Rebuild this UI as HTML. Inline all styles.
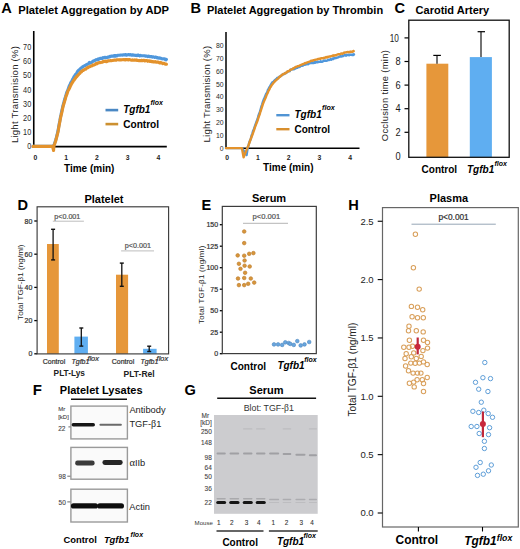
<!DOCTYPE html>
<html><head><meta charset="utf-8"><style>
html,body{margin:0;padding:0;background:#fff;}
svg{display:block;font-family:"Liberation Sans", sans-serif;}
</style></head><body>
<svg width="520" height="549" viewBox="0 0 520 549">
<defs><filter id="bl" x="-20%" y="-200%" width="140%" height="500%"><feGaussianBlur stdDeviation="0.45"/></filter><filter id="bl2" x="-20%" y="-200%" width="140%" height="500%"><feGaussianBlur stdDeviation="0.6"/></filter></defs>
<rect width="520" height="549" fill="#fff"/>
<text x="1.2" y="13.2" font-size="14.6" font-weight="bold" font-style="normal" fill="#000" text-anchor="start" >A</text>
<text x="18.2" y="14.4" font-size="11.2" font-weight="bold" font-style="normal" fill="#000" text-anchor="start" >Platelet Aggregation by ADP</text>
<text transform="translate(31.2,149.4) scale(0.85,1)" font-size="8.6" font-weight="normal" fill="#2a2a2a" text-anchor="end">0</text>
<text transform="translate(31.2,135.21) scale(0.85,1)" font-size="8.6" font-weight="normal" fill="#2a2a2a" text-anchor="end">10</text>
<text transform="translate(31.2,121.02000000000001) scale(0.85,1)" font-size="8.6" font-weight="normal" fill="#2a2a2a" text-anchor="end">20</text>
<text transform="translate(31.2,106.83000000000001) scale(0.85,1)" font-size="8.6" font-weight="normal" fill="#2a2a2a" text-anchor="end">30</text>
<text transform="translate(31.2,92.64) scale(0.85,1)" font-size="8.6" font-weight="normal" fill="#2a2a2a" text-anchor="end">40</text>
<text transform="translate(31.2,78.45) scale(0.85,1)" font-size="8.6" font-weight="normal" fill="#2a2a2a" text-anchor="end">50</text>
<text transform="translate(31.2,64.26) scale(0.85,1)" font-size="8.6" font-weight="normal" fill="#2a2a2a" text-anchor="end">60</text>
<text transform="translate(31.2,50.070000000000014) scale(0.85,1)" font-size="8.6" font-weight="normal" fill="#2a2a2a" text-anchor="end">70</text>
<text x="35.3" y="159.5" font-size="6.8" font-weight="bold" font-style="normal" fill="#222" text-anchor="middle" >0</text>
<text x="66.05" y="159.5" font-size="6.8" font-weight="bold" font-style="normal" fill="#222" text-anchor="middle" >1</text>
<text x="96.8" y="159.5" font-size="6.8" font-weight="bold" font-style="normal" fill="#222" text-anchor="middle" >2</text>
<text x="127.55" y="159.5" font-size="6.8" font-weight="bold" font-style="normal" fill="#222" text-anchor="middle" >3</text>
<text x="158.3" y="159.5" font-size="6.8" font-weight="bold" font-style="normal" fill="#222" text-anchor="middle" >4</text>
<text x="64" y="172.3" font-size="10" font-weight="bold" font-style="normal" fill="#000" text-anchor="start" >Time (min)</text>
<text transform="translate(18.3,94.6) rotate(-90)" font-size="9.5" font-weight="normal" fill="#222" text-anchor="middle" textLength="97" lengthAdjust="spacing">Light Transmision (%)</text>
<line x1="33.75" y1="31" x2="33.75" y2="147.3" stroke="#000" stroke-width="1.6" />
<line x1="33" y1="146.6" x2="166.8" y2="146.6" stroke="#000" stroke-width="1.6" />
<path d="M33.0,146.4 L53.7,146.0 L54.1,144.9 L54.7,143.0 L55.4,141.1 L56.1,138.8 L56.8,135.9 L57.4,133.4 L58.0,131.0 L58.6,127.3 L59.2,123.9 L59.8,121.1 L60.4,117.4 L61.0,114.9 L61.6,111.8 L62.2,109.0 L62.9,105.9 L63.5,103.6 L64.2,101.3 L64.8,98.7 L65.5,96.8 L66.1,94.7 L66.8,92.3 L67.5,90.9 L68.2,88.9 L68.8,87.2 L69.4,85.5 L70.0,84.8 L70.6,83.1 L71.3,81.9 L72.0,80.7 L72.7,79.2 L73.4,78.1 L74.0,76.7 L74.6,76.1 L75.3,74.8 L75.9,74.3 L76.6,73.3 L77.3,71.8 L78.0,70.9 L78.8,70.1 L79.5,69.9 L80.3,68.7 L80.9,68.4 L81.5,67.6 L82.1,67.3 L82.8,66.7 L83.5,66.2 L84.2,66.0 L84.9,65.5 L85.5,65.4 L86.2,64.8 L86.9,64.6 L87.6,64.1 L88.2,63.9 L88.8,63.3 L89.4,62.5 L90.2,63.1 L90.9,62.8 L91.6,62.4 L92.2,61.7 L92.9,61.5 L93.5,60.8 L94.2,61.0 L94.8,60.5 L95.5,60.0 L96.2,59.6 L96.9,59.9 L97.5,59.8 L98.2,58.9 L98.8,59.3 L99.5,58.8 L100.2,58.4 L100.8,58.3 L101.6,58.5 L102.3,58.4 L103.0,57.6 L103.8,57.9 L104.4,57.3 L105.1,57.7 L105.7,57.3 L106.4,57.6 L107.1,57.5 L107.8,57.0 L108.5,57.3 L109.2,56.6 L109.9,56.3 L110.6,56.6 L111.3,56.1 L112.1,56.1 L112.8,56.1 L113.5,56.2 L114.1,55.7 L114.7,55.5 L115.3,56.1 L115.9,55.5 L116.5,56.0 L117.1,55.8 L117.7,55.3 L118.3,55.3 L118.9,55.2 L119.5,55.2 L120.2,55.1 L120.9,55.0 L121.6,55.0 L122.4,55.2 L123.2,54.8 L124.0,54.7 L124.6,55.0 L125.2,54.6 L125.8,54.6 L126.4,55.2 L127.0,54.8 L127.7,54.9 L128.4,54.5 L129.1,54.8 L129.8,55.0 L130.5,54.6 L131.2,55.1 L131.9,55.1 L132.7,54.7 L133.4,55.2 L134.1,55.1 L134.9,55.4 L135.6,55.2 L136.3,55.5 L137.1,55.6 L137.8,55.0 L138.5,55.1 L139.2,55.7 L139.9,56.0 L140.5,55.4 L141.2,55.7 L141.9,55.8 L142.7,55.7 L143.4,55.8 L144.2,55.8 L144.9,55.9 L145.7,56.2 L146.4,56.0 L147.1,56.2 L147.9,56.6 L148.6,56.1 L149.3,56.6 L150.0,56.8 L150.7,56.5 L151.4,56.6 L152.1,57.1 L152.8,56.7 L153.4,56.8 L154.1,57.1 L154.7,57.4 L155.3,57.0 L155.9,57.3 L156.5,57.4 L157.3,57.9 L158.2,57.7 L159.0,58.2 L159.8,57.9 L160.6,58.2 L161.4,58.6 L162.1,58.9 L162.8,58.8 L163.5,58.7 L164.1,58.8 L164.7,59.3 L165.2,59.1 L165.7,59.8 L166.1,59.9 L166.5,59.4" fill="none" stroke="#4F97DC" stroke-width="3.1" stroke-linejoin="round" stroke-linecap="round" />
<path d="M33.0,146.4 L52.5,146.4 L53.6,150.5 L53.9,146.0 L54.3,145.1 L54.9,143.2 L55.6,141.3 L56.3,138.6 L57.0,135.9 L57.6,133.6 L58.2,131.0 L58.8,127.3 L59.4,124.0 L60.0,120.7 L60.7,117.3 L61.3,114.5 L61.9,112.1 L62.6,108.6 L63.3,105.7 L63.9,103.8 L64.6,101.3 L65.3,99.2 L65.9,96.7 L66.5,95.2 L67.2,93.4 L67.9,91.0 L68.7,89.7 L69.3,88.5 L70.0,87.0 L70.6,85.7 L71.3,84.3 L72.0,83.1 L72.8,81.9 L73.5,80.6 L74.2,80.0 L74.8,78.8 L75.5,78.3 L76.1,76.9 L76.7,76.7 L77.4,75.8 L78.0,75.2 L78.7,74.4 L79.5,73.7 L80.3,72.7 L80.9,71.7 L81.5,71.8 L82.1,70.9 L82.7,70.6 L83.4,70.4 L84.1,69.8 L84.8,69.3 L85.5,69.3 L86.2,68.6 L86.9,68.0 L87.5,67.5 L88.2,67.6 L88.8,66.9 L89.4,66.8 L90.2,66.5 L90.9,66.0 L91.6,65.9 L92.2,65.8 L92.9,64.9 L93.5,65.1 L94.2,64.9 L94.8,64.6 L95.5,64.3 L96.2,63.4 L96.9,63.7 L97.5,63.6 L98.2,62.8 L98.8,62.8 L99.5,62.6 L100.2,62.6 L100.8,62.4 L101.6,62.2 L102.3,62.3 L103.0,61.6 L103.8,61.4 L104.4,61.4 L105.1,61.3 L105.7,61.1 L106.4,61.7 L107.1,61.5 L107.8,60.8 L108.5,61.0 L109.2,60.8 L109.9,60.7 L110.6,60.6 L111.3,60.8 L112.1,60.6 L112.8,60.4 L113.5,60.2 L114.1,60.2 L114.7,60.0 L115.3,60.2 L115.9,60.3 L116.5,60.0 L117.1,59.7 L117.7,59.7 L118.3,59.8 L118.9,59.9 L119.5,60.0 L120.2,59.7 L120.9,60.0 L121.6,59.8 L122.4,59.7 L123.2,59.6 L124.0,59.7 L124.6,59.9 L125.2,59.6 L125.8,59.9 L126.4,59.7 L127.0,59.5 L127.7,59.8 L128.4,60.0 L129.1,59.5 L129.8,59.8 L130.5,59.8 L131.2,60.2 L131.9,60.3 L132.7,59.9 L133.4,60.3 L134.1,60.3 L134.9,59.9 L135.6,60.1 L136.3,59.9 L137.1,60.5 L137.8,60.4 L138.5,60.6 L139.2,60.6 L139.9,60.5 L140.5,60.6 L141.2,60.6 L141.9,60.2 L142.7,60.7 L143.4,60.3 L144.2,60.4 L144.9,61.0 L145.7,60.5 L146.4,60.6 L147.1,60.6 L147.9,61.3 L148.6,60.8 L149.3,60.8 L150.0,61.5 L150.7,61.0 L151.4,61.6 L152.1,61.6 L152.8,61.8 L153.4,62.0 L154.1,61.7 L154.7,62.0 L155.3,61.5 L155.9,62.1 L156.5,62.0 L157.3,62.3 L158.2,62.0 L159.0,62.6 L159.8,63.0 L160.6,62.4 L161.4,62.8 L162.1,63.2 L162.8,63.6 L163.5,63.3 L164.1,63.4 L164.7,63.6 L165.2,64.1 L165.7,64.3 L166.1,64.1 L166.5,64.2" fill="none" stroke="#E3922C" stroke-width="3.1" stroke-linejoin="round" stroke-linecap="round" />
<line x1="105.5" y1="110.1" x2="118.2" y2="110.1" stroke="#4A88C4" stroke-width="2.6" />
<line x1="105.5" y1="124.1" x2="118.2" y2="124.1" stroke="#CC9030" stroke-width="2.6" />
<text x="123.2" y="113.3" font-size="10" font-weight="bold" font-style="italic" fill="#000" text-anchor="start" >Tgfb1</text>
<text x="150.4" y="105.3" font-size="7" font-weight="bold" font-style="italic" fill="#000" text-anchor="start" >flox</text>
<text x="123.2" y="127.8" font-size="10.1" font-weight="bold" font-style="normal" fill="#000" text-anchor="start" >Control</text>
<text x="190.6" y="12.6" font-size="14.6" font-weight="bold" font-style="normal" fill="#000" text-anchor="start" >B</text>
<text x="206.9" y="14.2" font-size="11" font-weight="bold" font-style="normal" fill="#000" text-anchor="start" >Platelet Aggregation by Thrombin</text>
<text transform="translate(223.6,150.8) scale(0.88,1)" font-size="7.8" font-weight="normal" fill="#2a2a2a" text-anchor="end">0</text>
<text transform="translate(223.6,137.96) scale(0.88,1)" font-size="7.8" font-weight="normal" fill="#2a2a2a" text-anchor="end">10</text>
<text transform="translate(223.6,125.11999999999999) scale(0.88,1)" font-size="7.8" font-weight="normal" fill="#2a2a2a" text-anchor="end">20</text>
<text transform="translate(223.6,112.27999999999999) scale(0.88,1)" font-size="7.8" font-weight="normal" fill="#2a2a2a" text-anchor="end">30</text>
<text transform="translate(223.6,99.44) scale(0.88,1)" font-size="7.8" font-weight="normal" fill="#2a2a2a" text-anchor="end">40</text>
<text transform="translate(223.6,86.6) scale(0.88,1)" font-size="7.8" font-weight="normal" fill="#2a2a2a" text-anchor="end">50</text>
<text transform="translate(223.6,73.75999999999999) scale(0.88,1)" font-size="7.8" font-weight="normal" fill="#2a2a2a" text-anchor="end">60</text>
<text transform="translate(223.6,60.92) scale(0.88,1)" font-size="7.8" font-weight="normal" fill="#2a2a2a" text-anchor="end">70</text>
<text transform="translate(223.6,48.08) scale(0.88,1)" font-size="7.8" font-weight="normal" fill="#2a2a2a" text-anchor="end">80</text>
<text x="227.2" y="159.5" font-size="6.8" font-weight="bold" font-style="normal" fill="#222" text-anchor="middle" >0</text>
<text x="257.95" y="159.5" font-size="6.8" font-weight="bold" font-style="normal" fill="#222" text-anchor="middle" >1</text>
<text x="288.7" y="159.5" font-size="6.8" font-weight="bold" font-style="normal" fill="#222" text-anchor="middle" >2</text>
<text x="319.45" y="159.5" font-size="6.8" font-weight="bold" font-style="normal" fill="#222" text-anchor="middle" >3</text>
<text x="350.2" y="159.5" font-size="6.8" font-weight="bold" font-style="normal" fill="#222" text-anchor="middle" >4</text>
<text x="263.1" y="171.4" font-size="10" font-weight="bold" font-style="normal" fill="#000" text-anchor="start" >Time (min)</text>
<text transform="translate(209.8,94.2) rotate(-90)" font-size="9.5" font-weight="normal" fill="#222" text-anchor="middle" textLength="96.5" lengthAdjust="spacing">Light Transmision (%)</text>
<line x1="226" y1="32" x2="226" y2="148.8" stroke="#000" stroke-width="1.5" />
<line x1="225.5" y1="148.3" x2="359.5" y2="148.3" stroke="#000" stroke-width="1.5" />
<path d="M226.0,148.1 L241.9,148.1 L246.6,155.0 L247.7,147.9 L248.1,146.5 L248.7,144.8 L249.3,142.4 L250.1,140.5 L250.9,138.6 L251.6,135.5 L252.4,133.6 L253.1,130.8 L253.8,129.5 L254.4,127.6 L255.1,125.6 L255.8,123.6 L256.5,121.8 L257.1,120.2 L257.7,118.7 L258.3,116.2 L259.0,114.0 L259.7,112.6 L260.3,110.7 L260.9,108.3 L261.5,106.2 L262.1,104.6 L262.8,102.2 L263.4,100.5 L264.1,98.7 L264.8,97.4 L265.5,95.4 L266.2,93.7 L266.8,92.8 L267.4,91.8 L268.0,89.7 L268.6,88.9 L269.3,87.3 L269.9,86.7 L270.6,85.3 L271.2,84.1 L271.8,83.2 L272.5,82.2 L273.1,82.0 L273.8,81.3 L274.5,80.4 L275.1,80.0 L275.8,79.3 L276.5,79.2 L277.1,78.0 L277.8,78.4 L278.4,77.3 L279.1,77.0 L279.8,76.4 L280.5,76.3 L281.3,75.8 L281.9,75.1 L282.6,74.6 L283.3,74.4 L284.0,74.2 L284.8,73.3 L285.5,73.2 L286.3,73.1 L287.0,72.1 L287.7,71.5 L288.3,71.2 L288.8,71.4 L289.5,71.0 L289.8,71.1 L289.9,70.8 L290.3,69.9 L291.0,69.6 L292.3,69.1 L292.7,68.9 L293.2,69.3 L293.7,69.3 L294.3,69.1 L294.9,68.2 L295.5,68.6 L296.1,67.7 L296.8,67.6 L297.5,67.7 L298.2,66.7 L299.0,66.4 L299.7,67.0 L300.5,66.1 L301.2,65.9 L302.0,65.9 L302.8,65.7 L303.6,64.7 L304.4,64.8 L305.1,64.7 L305.9,64.5 L306.7,63.9 L307.4,64.1 L308.2,64.3 L308.9,63.5 L309.6,63.4 L310.3,62.8 L311.0,62.8 L311.7,63.1 L312.4,62.3 L313.1,63.1 L313.8,63.0 L314.4,61.9 L315.1,62.8 L315.8,62.0 L316.5,62.4 L317.2,62.3 L317.9,61.6 L318.6,62.0 L319.3,61.9 L320.0,61.9 L320.7,61.2 L321.4,61.7 L322.1,61.8 L322.7,61.4 L323.4,61.1 L324.1,60.5 L324.8,60.8 L325.5,60.5 L326.2,60.8 L326.9,60.6 L327.6,60.3 L328.3,59.7 L329.0,60.0 L329.7,59.8 L330.5,59.1 L331.2,59.7 L332.0,59.2 L332.7,58.4 L333.4,59.1 L334.2,58.0 L334.9,58.0 L335.7,58.2 L336.4,57.9 L337.1,57.6 L337.8,57.5 L338.5,57.1 L339.2,56.7 L339.9,56.4 L340.6,56.0 L341.2,56.6 L341.9,56.4 L342.5,56.1 L343.1,56.1 L343.6,55.6 L344.2,55.3 L345.1,55.3 L346.0,55.7 L346.8,54.7 L347.6,55.1 L348.4,54.7 L349.1,55.2 L349.8,54.7 L350.5,54.6 L351.1,54.7 L351.7,54.8 L352.3,55.1 L352.8,54.6 L353.2,55.1 L353.6,54.3 L354.0,54.4" fill="none" stroke="#4F97DC" stroke-width="2.4" stroke-linejoin="round" stroke-linecap="round" />
<path d="M226.0,148.1 L241.9,148.1 L243.6,157.4 L247.4,147.9 L247.8,146.8 L248.4,145.7 L249.0,143.9 L249.8,141.5 L250.6,139.3 L251.4,137.3 L252.2,135.3 L252.9,133.3 L253.6,131.4 L254.3,129.3 L255.0,127.1 L255.7,125.4 L256.4,123.4 L257.1,121.8 L257.7,120.1 L258.3,118.1 L258.9,116.4 L259.6,114.6 L260.3,112.0 L260.9,110.4 L261.5,108.5 L262.1,106.6 L262.8,104.3 L263.5,102.6 L264.2,100.9 L264.9,99.2 L265.6,97.7 L266.3,95.9 L267.0,94.1 L267.6,93.1 L268.2,91.5 L268.8,90.3 L269.5,89.2 L270.1,87.5 L270.7,86.9 L271.4,85.7 L272.0,84.7 L272.6,84.0 L273.2,83.2 L273.9,82.3 L274.5,81.8 L275.1,80.8 L275.8,80.5 L276.4,80.0 L277.0,79.3 L277.6,78.8 L278.1,78.5 L278.7,78.0 L279.3,76.9 L279.9,76.9 L280.6,76.2 L281.3,75.3 L281.9,75.1 L282.6,74.5 L283.3,74.0 L284.0,73.8 L284.8,73.6 L285.5,72.8 L286.3,72.7 L287.0,72.1 L287.6,71.3 L288.3,71.5 L288.8,71.0 L289.5,70.8 L289.8,70.3 L289.9,70.2 L290.3,69.7 L291.0,69.6 L292.3,69.1 L292.7,68.9 L293.2,68.3 L293.7,68.3 L294.3,67.9 L294.9,67.4 L295.5,67.0 L296.1,66.8 L296.8,66.6 L297.5,66.2 L298.2,66.1 L299.0,66.0 L299.7,65.5 L300.5,65.1 L301.2,64.9 L302.0,64.4 L302.8,64.2 L303.6,64.0 L304.4,63.5 L305.1,63.0 L305.9,63.2 L306.7,62.8 L307.4,62.3 L308.2,62.0 L308.9,61.9 L309.6,61.7 L310.3,61.2 L311.0,60.8 L311.7,60.7 L312.4,60.9 L313.1,60.3 L313.8,60.3 L314.4,60.0 L315.1,59.8 L315.8,59.6 L316.5,59.6 L317.2,59.3 L317.9,59.0 L318.6,58.9 L319.3,58.8 L320.0,58.9 L320.7,58.4 L321.4,58.2 L322.1,58.4 L322.7,58.2 L323.4,58.3 L324.1,57.6 L324.8,57.7 L325.5,57.6 L326.2,57.1 L326.9,57.6 L327.6,56.9 L328.3,56.7 L329.0,56.8 L329.8,56.4 L330.5,56.5 L331.2,56.1 L332.0,55.8 L332.7,55.5 L333.5,55.8 L334.2,55.3 L334.9,55.5 L335.7,55.1 L336.4,55.2 L337.1,54.6 L337.8,54.4 L338.5,54.2 L339.2,54.4 L339.9,54.1 L340.6,53.8 L341.2,53.4 L341.9,53.7 L342.5,53.7 L343.1,53.3 L343.7,52.8 L344.2,52.7 L345.1,52.5 L346.0,52.4 L346.9,52.1 L347.8,51.9 L348.6,52.2 L349.3,52.2 L350.0,51.6 L350.7,52.0 L351.3,51.6 L351.9,51.7 L352.4,51.7 L352.9,51.6 L353.3,50.9 L353.7,51.1" fill="none" stroke="#E3922C" stroke-width="2.4" stroke-linejoin="round" stroke-linecap="round" />
<line x1="276.3" y1="115.2" x2="289.5" y2="115.2" stroke="#5094D4" stroke-width="2.4" />
<line x1="276.3" y1="129.2" x2="289.5" y2="129.2" stroke="#D88F2E" stroke-width="2.4" />
<text x="294.5" y="118.4" font-size="10" font-weight="bold" font-style="italic" fill="#000" text-anchor="start" >Tgfb1</text>
<text x="322" y="110.2" font-size="7.2" font-weight="bold" font-style="italic" fill="#000" text-anchor="start" >flox</text>
<text x="294.5" y="133" font-size="10" font-weight="bold" font-style="normal" fill="#000" text-anchor="start" >Control</text>
<text x="394.6" y="12.6" font-size="14.6" font-weight="bold" font-style="normal" fill="#000" text-anchor="start" >C</text>
<text x="415.6" y="14.2" font-size="11" font-weight="bold" font-style="normal" fill="#000" text-anchor="start" >Carotid Artery</text>
<rect x="426.4" y="63.7" width="21.9" height="93.60000000000001" fill="#E6973A" />
<rect x="469.8" y="57.1" width="22.1" height="100.20000000000002" fill="#5FAEF1" />
<line x1="437" y1="55.4" x2="437" y2="63.7" stroke="#000" stroke-width="1.1" />
<line x1="433.3" y1="55.4" x2="440.9" y2="55.4" stroke="#000" stroke-width="1.2" />
<line x1="481" y1="31.7" x2="481" y2="57.1" stroke="#000" stroke-width="1.1" />
<line x1="477.6" y1="31.7" x2="485" y2="31.7" stroke="#000" stroke-width="1.2" />
<rect x="408.8" y="20.2" width="100.4" height="137.1" fill="none" stroke="#111" stroke-width="1.3"/>
<text transform="translate(400.6,159.6) scale(0.9,1)" font-size="10.3" font-weight="normal" fill="#1a1a1a" text-anchor="end">0</text>
<line x1="404.5" y1="132.3" x2="408.6" y2="132.3" stroke="#000" stroke-width="1.2" />
<text transform="translate(400.6,136.0) scale(0.9,1)" font-size="10.3" font-weight="normal" fill="#1a1a1a" text-anchor="end">2</text>
<line x1="404.5" y1="108.7" x2="408.6" y2="108.7" stroke="#000" stroke-width="1.2" />
<text transform="translate(400.6,112.4) scale(0.9,1)" font-size="10.3" font-weight="normal" fill="#1a1a1a" text-anchor="end">4</text>
<line x1="404.5" y1="85.1" x2="408.6" y2="85.1" stroke="#000" stroke-width="1.2" />
<text transform="translate(400.6,88.8) scale(0.9,1)" font-size="10.3" font-weight="normal" fill="#1a1a1a" text-anchor="end">6</text>
<line x1="404.5" y1="61.5" x2="408.6" y2="61.5" stroke="#000" stroke-width="1.2" />
<text transform="translate(400.6,65.2) scale(0.9,1)" font-size="10.3" font-weight="normal" fill="#1a1a1a" text-anchor="end">8</text>
<line x1="404.5" y1="37.900000000000006" x2="408.6" y2="37.900000000000006" stroke="#000" stroke-width="1.2" />
<text transform="translate(398.9,41.60000000000001) scale(0.8,1)" font-size="10.3" font-weight="normal" fill="#1a1a1a" text-anchor="end">10</text>
<text x="421.6" y="172.7" font-size="10" font-weight="bold" font-style="normal" fill="#000" text-anchor="start" >Control</text>
<text x="467" y="172.7" font-size="10" font-weight="bold" font-style="italic" fill="#000" text-anchor="start" >Tgfb1</text>
<text x="494.4" y="166.3" font-size="7" font-weight="bold" font-style="italic" fill="#000" text-anchor="start" >flox</text>
<text transform="translate(387.6,95.7) rotate(-90)" font-size="9.4" font-weight="normal" fill="#222" text-anchor="middle" textLength="91" lengthAdjust="spacing">Occlusion time (min)</text>
<text x="17.5" y="209.6" font-size="14.6" font-weight="bold" font-style="normal" fill="#000" text-anchor="start" >D</text>
<text x="84.4" y="202.6" font-size="11" font-weight="bold" font-style="normal" fill="#000" text-anchor="start" >Platelet</text>
<line x1="34.3" y1="353.8" x2="37.2" y2="353.8" stroke="#000" stroke-width="1.3" />
<text x="32.3" y="356.3" font-size="7" font-weight="normal" font-style="normal" fill="#333" text-anchor="end"  stroke="#333" stroke-width="0.22">0</text>
<line x1="34.3" y1="320.6" x2="37.2" y2="320.6" stroke="#000" stroke-width="1.3" />
<text x="32.3" y="323.1" font-size="7" font-weight="normal" font-style="normal" fill="#333" text-anchor="end"  stroke="#333" stroke-width="0.22">20</text>
<line x1="34.3" y1="287.40000000000003" x2="37.2" y2="287.40000000000003" stroke="#000" stroke-width="1.3" />
<text x="32.3" y="289.90000000000003" font-size="7" font-weight="normal" font-style="normal" fill="#333" text-anchor="end"  stroke="#333" stroke-width="0.22">40</text>
<line x1="34.3" y1="254.20000000000002" x2="37.2" y2="254.20000000000002" stroke="#000" stroke-width="1.3" />
<text x="32.3" y="256.70000000000005" font-size="7" font-weight="normal" font-style="normal" fill="#333" text-anchor="end"  stroke="#333" stroke-width="0.22">60</text>
<line x1="34.3" y1="221.00000000000003" x2="37.2" y2="221.00000000000003" stroke="#000" stroke-width="1.3" />
<text x="32.3" y="223.50000000000003" font-size="7" font-weight="normal" font-style="normal" fill="#333" text-anchor="end"  stroke="#333" stroke-width="0.22">80</text>
<text x="54.2" y="218.6" font-size="7.2" font-weight="normal" font-style="normal" fill="#555" text-anchor="start"  stroke="#555" stroke-width="0.22">p&lt;0.001</text>
<line x1="52.8" y1="221.2" x2="83.9" y2="221.2" stroke="#bdbdbd" stroke-width="1" />
<text x="124.8" y="248" font-size="7.2" font-weight="normal" font-style="normal" fill="#555" text-anchor="start"  stroke="#555" stroke-width="0.22">p&lt;0.001</text>
<line x1="121.1" y1="250.9" x2="154" y2="250.9" stroke="#bdbdbd" stroke-width="1" />
<rect x="47" y="244" width="11.799999999999997" height="109.80000000000001" fill="#E6973A" />
<line x1="53.1" y1="229.3" x2="53.1" y2="259.9" stroke="#111" stroke-width="1.3" />
<line x1="51.1" y1="229.3" x2="55.1" y2="229.3" stroke="#111" stroke-width="1.4" />
<line x1="51.1" y1="259.9" x2="55.1" y2="259.9" stroke="#111" stroke-width="1.4" />
<rect x="74.4" y="336.6" width="13.5" height="17.19999999999999" fill="#5FAEF1" />
<line x1="81.3" y1="328" x2="81.3" y2="346.1" stroke="#111" stroke-width="1.3" />
<line x1="79.3" y1="328" x2="83.3" y2="328" stroke="#111" stroke-width="1.4" />
<line x1="79.3" y1="346.1" x2="83.3" y2="346.1" stroke="#111" stroke-width="1.4" />
<rect x="116" y="274.7" width="12.099999999999994" height="79.10000000000002" fill="#E6973A" />
<line x1="121.8" y1="263.1" x2="121.8" y2="286.3" stroke="#111" stroke-width="1.3" />
<line x1="119.8" y1="263.1" x2="123.8" y2="263.1" stroke="#111" stroke-width="1.4" />
<line x1="119.8" y1="286.3" x2="123.8" y2="286.3" stroke="#111" stroke-width="1.4" />
<rect x="143.1" y="348.8" width="13.5" height="5.0" fill="#5FAEF1" />
<line x1="149.2" y1="346.2" x2="149.2" y2="351.5" stroke="#111" stroke-width="1.3" />
<line x1="147.2" y1="346.2" x2="151.2" y2="346.2" stroke="#111" stroke-width="1.4" />
<line x1="147.2" y1="351.5" x2="151.2" y2="351.5" stroke="#111" stroke-width="1.4" />
<rect x="37.1" y="206.8" width="131.5" height="147.1" fill="none" stroke="#3c3c3c" stroke-width="1.15"/>
<text x="42.7" y="364" font-size="7" font-weight="normal" font-style="normal" fill="#333" text-anchor="start"  stroke="#333" stroke-width="0.22">Control</text>
<text x="71.5" y="364" font-size="7" font-weight="normal" font-style="italic" fill="#333" text-anchor="start"  stroke="#333" stroke-width="0.22">Tgfb1</text>
<text x="87.4" y="361.2" font-size="7.4" font-weight="normal" font-style="italic" fill="#333" text-anchor="start"  stroke="#333" stroke-width="0.22">flox</text>
<text x="111.7" y="364" font-size="7" font-weight="normal" font-style="normal" fill="#333" text-anchor="start"  stroke="#333" stroke-width="0.22">Control</text>
<text x="140.5" y="364" font-size="7" font-weight="normal" font-style="italic" fill="#333" text-anchor="start"  stroke="#333" stroke-width="0.22">Tgfb1</text>
<text x="156.6" y="361.2" font-size="7.4" font-weight="normal" font-style="italic" fill="#333" text-anchor="start"  stroke="#333" stroke-width="0.22">flox</text>
<text x="53.6" y="376" font-size="8.3" font-weight="bold" font-style="normal" fill="#222" text-anchor="start" >PLT-Lys</text>
<text x="123.6" y="376.6" font-size="8.5" font-weight="bold" font-style="normal" fill="#222" text-anchor="start" >PLT-Rel</text>
<text transform="translate(23.4,282.2) rotate(-90)" font-size="8.1" font-weight="normal" fill="#222" text-anchor="middle" textLength="75.5" lengthAdjust="spacing">Total TGF-β1 (ng/ml)</text>
<text x="201.6" y="209.8" font-size="14.6" font-weight="bold" font-style="normal" fill="#000" text-anchor="start" >E</text>
<text x="251.9" y="202.4" font-size="11" font-weight="bold" font-style="normal" fill="#000" text-anchor="start" >Serum</text>
<line x1="219.8" y1="353.7" x2="222.4" y2="353.7" stroke="#000" stroke-width="1.3" />
<text x="218.1" y="356.2" font-size="7" font-weight="normal" font-style="normal" fill="#333" text-anchor="end"  stroke="#333" stroke-width="0.22">0</text>
<line x1="219.8" y1="332.2" x2="222.4" y2="332.2" stroke="#000" stroke-width="1.3" />
<text x="218.1" y="334.7" font-size="7" font-weight="normal" font-style="normal" fill="#333" text-anchor="end"  stroke="#333" stroke-width="0.22">25</text>
<line x1="219.8" y1="310.7" x2="222.4" y2="310.7" stroke="#000" stroke-width="1.3" />
<text x="218.1" y="313.2" font-size="7" font-weight="normal" font-style="normal" fill="#333" text-anchor="end"  stroke="#333" stroke-width="0.22">50</text>
<line x1="219.8" y1="289.2" x2="222.4" y2="289.2" stroke="#000" stroke-width="1.3" />
<text x="218.1" y="291.7" font-size="7" font-weight="normal" font-style="normal" fill="#333" text-anchor="end"  stroke="#333" stroke-width="0.22">75</text>
<line x1="219.8" y1="267.7" x2="222.4" y2="267.7" stroke="#000" stroke-width="1.3" />
<text x="218.1" y="270.2" font-size="7" font-weight="normal" font-style="normal" fill="#333" text-anchor="end"  stroke="#333" stroke-width="0.22">100</text>
<line x1="219.8" y1="246.2" x2="222.4" y2="246.2" stroke="#000" stroke-width="1.3" />
<text x="218.1" y="248.7" font-size="7" font-weight="normal" font-style="normal" fill="#333" text-anchor="end"  stroke="#333" stroke-width="0.22">125</text>
<line x1="219.8" y1="224.7" x2="222.4" y2="224.7" stroke="#000" stroke-width="1.3" />
<text x="218.1" y="227.2" font-size="7" font-weight="normal" font-style="normal" fill="#333" text-anchor="end"  stroke="#333" stroke-width="0.22">150</text>
<text x="252.6" y="219" font-size="7.6" font-weight="normal" font-style="normal" fill="#555" text-anchor="start"  stroke="#555" stroke-width="0.22">p&lt;0.001</text>
<line x1="243" y1="223.3" x2="288" y2="223.3" stroke="#b5b5b5" stroke-width="1" />
<circle cx="244.2" cy="231.5" r="1.8" fill="#D8963A" stroke="#BD7E30" stroke-width="0.7"/>
<circle cx="244.2" cy="243.1" r="1.8" fill="#D8963A" stroke="#BD7E30" stroke-width="0.7"/>
<circle cx="237.7" cy="255.4" r="1.8" fill="#D8963A" stroke="#BD7E30" stroke-width="0.7"/>
<circle cx="244.2" cy="255.7" r="1.8" fill="#D8963A" stroke="#BD7E30" stroke-width="0.7"/>
<circle cx="249.2" cy="253.8" r="1.8" fill="#D8963A" stroke="#BD7E30" stroke-width="0.7"/>
<circle cx="253.4" cy="253.1" r="1.8" fill="#D8963A" stroke="#BD7E30" stroke-width="0.7"/>
<circle cx="244.6" cy="260.5" r="1.8" fill="#D8963A" stroke="#BD7E30" stroke-width="0.7"/>
<circle cx="238.9" cy="263.8" r="1.8" fill="#D8963A" stroke="#BD7E30" stroke-width="0.7"/>
<circle cx="244.6" cy="265.7" r="1.8" fill="#D8963A" stroke="#BD7E30" stroke-width="0.7"/>
<circle cx="249.7" cy="266.5" r="1.8" fill="#D8963A" stroke="#BD7E30" stroke-width="0.7"/>
<circle cx="240.5" cy="268.8" r="1.8" fill="#D8963A" stroke="#BD7E30" stroke-width="0.7"/>
<circle cx="245.1" cy="272.8" r="1.8" fill="#D8963A" stroke="#BD7E30" stroke-width="0.7"/>
<circle cx="238" cy="278.5" r="1.8" fill="#D8963A" stroke="#BD7E30" stroke-width="0.7"/>
<circle cx="244.2" cy="278" r="1.8" fill="#D8963A" stroke="#BD7E30" stroke-width="0.7"/>
<circle cx="250.8" cy="278.5" r="1.8" fill="#D8963A" stroke="#BD7E30" stroke-width="0.7"/>
<circle cx="238.9" cy="285.1" r="1.8" fill="#D8963A" stroke="#BD7E30" stroke-width="0.7"/>
<circle cx="244.2" cy="285.1" r="1.8" fill="#D8963A" stroke="#BD7E30" stroke-width="0.7"/>
<circle cx="248.2" cy="283.8" r="1.8" fill="#D8963A" stroke="#BD7E30" stroke-width="0.7"/>
<circle cx="254.2" cy="282.6" r="1.8" fill="#D8963A" stroke="#BD7E30" stroke-width="0.7"/>
<circle cx="274" cy="344.4" r="1.85" fill="#68A6DE" stroke="#5088C0" stroke-width="0.6"/>
<circle cx="278.1" cy="344.4" r="1.85" fill="#68A6DE" stroke="#5088C0" stroke-width="0.6"/>
<circle cx="282.2" cy="344.9" r="1.85" fill="#68A6DE" stroke="#5088C0" stroke-width="0.6"/>
<circle cx="285.3" cy="342.3" r="1.85" fill="#68A6DE" stroke="#5088C0" stroke-width="0.6"/>
<circle cx="288.7" cy="343" r="1.85" fill="#68A6DE" stroke="#5088C0" stroke-width="0.6"/>
<circle cx="290.3" cy="343.9" r="1.85" fill="#68A6DE" stroke="#5088C0" stroke-width="0.6"/>
<circle cx="293.8" cy="344.9" r="1.85" fill="#68A6DE" stroke="#5088C0" stroke-width="0.6"/>
<circle cx="297.3" cy="341.1" r="1.85" fill="#68A6DE" stroke="#5088C0" stroke-width="0.6"/>
<circle cx="300.7" cy="345.4" r="1.85" fill="#68A6DE" stroke="#5088C0" stroke-width="0.6"/>
<circle cx="304.5" cy="344.4" r="1.85" fill="#68A6DE" stroke="#5088C0" stroke-width="0.6"/>
<circle cx="309.2" cy="342" r="1.85" fill="#68A6DE" stroke="#5088C0" stroke-width="0.6"/>
<rect x="222.3" y="206.4" width="94" height="147.2" fill="none" stroke="#3c3c3c" stroke-width="1.2"/>
<text x="230.5" y="369.7" font-size="10" font-weight="bold" font-style="normal" fill="#000" text-anchor="start" >Control</text>
<text x="277.4" y="369.3" font-size="10" font-weight="bold" font-style="italic" fill="#000" text-anchor="start" >Tgfb1</text>
<text x="304.2" y="362.4" font-size="7" font-weight="bold" font-style="italic" fill="#000" text-anchor="start" >flox</text>
<text transform="translate(203.8,284.8) rotate(-90)" font-size="8.0" font-weight="normal" fill="#222" text-anchor="middle" textLength="78.5" lengthAdjust="spacing">Total TGF-β1 (ng/ml)</text>
<text x="348.2" y="209.6" font-size="14.6" font-weight="bold" font-style="normal" fill="#000" text-anchor="start" >H</text>
<text x="429.6" y="202.3" font-size="11" font-weight="bold" font-style="normal" fill="#000" text-anchor="start" >Plasma</text>
<rect x="382.5" y="207.6" width="135.8" height="319.4" fill="none" stroke="#666" stroke-width="1.2"/>
<line x1="377.7" y1="513.0" x2="382.5" y2="513.0" stroke="#000" stroke-width="1.1" />
<text x="373.6" y="516.4" font-size="9.5" font-weight="normal" font-style="normal" fill="#222" text-anchor="end" >0.0</text>
<line x1="377.7" y1="454.65" x2="382.5" y2="454.65" stroke="#000" stroke-width="1.1" />
<text x="373.6" y="458.04999999999995" font-size="9.5" font-weight="normal" font-style="normal" fill="#222" text-anchor="end" >0.5</text>
<line x1="377.7" y1="396.3" x2="382.5" y2="396.3" stroke="#000" stroke-width="1.1" />
<text x="373.6" y="399.7" font-size="9.5" font-weight="normal" font-style="normal" fill="#222" text-anchor="end" >1.0</text>
<line x1="377.7" y1="337.95" x2="382.5" y2="337.95" stroke="#000" stroke-width="1.1" />
<text x="373.6" y="341.34999999999997" font-size="9.5" font-weight="normal" font-style="normal" fill="#222" text-anchor="end" >1.5</text>
<line x1="377.7" y1="279.6" x2="382.5" y2="279.6" stroke="#000" stroke-width="1.1" />
<text x="373.6" y="283.0" font-size="9.5" font-weight="normal" font-style="normal" fill="#222" text-anchor="end" >2.0</text>
<line x1="377.7" y1="221.25" x2="382.5" y2="221.25" stroke="#000" stroke-width="1.1" />
<text x="373.6" y="224.65" font-size="9.5" font-weight="normal" font-style="normal" fill="#222" text-anchor="end" >2.5</text>
<line x1="418.4" y1="527" x2="418.4" y2="531.5" stroke="#000" stroke-width="1.1" />
<line x1="482.5" y1="527" x2="482.5" y2="531.5" stroke="#000" stroke-width="1.1" />
<text x="438.5" y="220" font-size="8.3" font-weight="normal" font-style="normal" fill="#333" text-anchor="start"  stroke="#333" stroke-width="0.22">p&lt;0.001</text>
<line x1="411.5" y1="224.2" x2="495.8" y2="224.2" stroke="#95a5b5" stroke-width="1" />
<circle cx="415.4" cy="234.2" r="2.2" fill="none" stroke="#D9A05C" stroke-width="1.05"/>
<circle cx="413.4" cy="267.8" r="2.2" fill="none" stroke="#D9A05C" stroke-width="1.05"/>
<circle cx="419.2" cy="289.1" r="2.2" fill="none" stroke="#D9A05C" stroke-width="1.05"/>
<circle cx="411.4" cy="306.4" r="2.2" fill="none" stroke="#D9A05C" stroke-width="1.05"/>
<circle cx="417.5" cy="307.3" r="2.2" fill="none" stroke="#D9A05C" stroke-width="1.05"/>
<circle cx="422.7" cy="309.8" r="2.2" fill="none" stroke="#D9A05C" stroke-width="1.05"/>
<circle cx="412.1" cy="316.8" r="2.2" fill="none" stroke="#D9A05C" stroke-width="1.05"/>
<circle cx="417.5" cy="317.7" r="2.2" fill="none" stroke="#D9A05C" stroke-width="1.05"/>
<circle cx="423.3" cy="317.7" r="2.2" fill="none" stroke="#D9A05C" stroke-width="1.05"/>
<circle cx="409" cy="326.2" r="2.2" fill="none" stroke="#D9A05C" stroke-width="1.05"/>
<circle cx="408.5" cy="330.8" r="2.2" fill="none" stroke="#D9A05C" stroke-width="1.05"/>
<circle cx="416.3" cy="330.8" r="2.2" fill="none" stroke="#D9A05C" stroke-width="1.05"/>
<circle cx="423.2" cy="331.9" r="2.2" fill="none" stroke="#D9A05C" stroke-width="1.05"/>
<circle cx="409.4" cy="340.2" r="2.2" fill="none" stroke="#D9A05C" stroke-width="1.05"/>
<circle cx="423.5" cy="340.2" r="2.2" fill="none" stroke="#D9A05C" stroke-width="1.05"/>
<circle cx="427.5" cy="342.5" r="2.2" fill="none" stroke="#D9A05C" stroke-width="1.05"/>
<circle cx="403.8" cy="347.2" r="2.2" fill="none" stroke="#D9A05C" stroke-width="1.05"/>
<circle cx="409" cy="347.2" r="2.2" fill="none" stroke="#D9A05C" stroke-width="1.05"/>
<circle cx="412.5" cy="346.3" r="2.2" fill="none" stroke="#D9A05C" stroke-width="1.05"/>
<circle cx="427.5" cy="348.1" r="2.2" fill="none" stroke="#D9A05C" stroke-width="1.05"/>
<circle cx="422.9" cy="350.6" r="2.2" fill="none" stroke="#D9A05C" stroke-width="1.05"/>
<circle cx="406.2" cy="353.8" r="2.2" fill="none" stroke="#D9A05C" stroke-width="1.05"/>
<circle cx="413.7" cy="352.9" r="2.2" fill="none" stroke="#D9A05C" stroke-width="1.05"/>
<circle cx="411.3" cy="356.7" r="2.2" fill="none" stroke="#D9A05C" stroke-width="1.05"/>
<circle cx="405" cy="358.5" r="2.2" fill="none" stroke="#D9A05C" stroke-width="1.05"/>
<circle cx="416.3" cy="358.5" r="2.2" fill="none" stroke="#D9A05C" stroke-width="1.05"/>
<circle cx="421.2" cy="356.4" r="2.2" fill="none" stroke="#D9A05C" stroke-width="1.05"/>
<circle cx="410.8" cy="363.1" r="2.2" fill="none" stroke="#D9A05C" stroke-width="1.05"/>
<circle cx="415.2" cy="363.3" r="2.2" fill="none" stroke="#D9A05C" stroke-width="1.05"/>
<circle cx="419.4" cy="363.1" r="2.2" fill="none" stroke="#D9A05C" stroke-width="1.05"/>
<circle cx="423.5" cy="361.9" r="2.2" fill="none" stroke="#D9A05C" stroke-width="1.05"/>
<circle cx="427.2" cy="364.5" r="2.2" fill="none" stroke="#D9A05C" stroke-width="1.05"/>
<circle cx="405.6" cy="366" r="2.2" fill="none" stroke="#D9A05C" stroke-width="1.05"/>
<circle cx="408.5" cy="370.8" r="2.2" fill="none" stroke="#D9A05C" stroke-width="1.05"/>
<circle cx="413.1" cy="373.1" r="2.2" fill="none" stroke="#D9A05C" stroke-width="1.05"/>
<circle cx="417.5" cy="373.1" r="2.2" fill="none" stroke="#D9A05C" stroke-width="1.05"/>
<circle cx="420.9" cy="373.1" r="2.2" fill="none" stroke="#D9A05C" stroke-width="1.05"/>
<circle cx="427.2" cy="377.5" r="2.2" fill="none" stroke="#D9A05C" stroke-width="1.05"/>
<circle cx="417.1" cy="379.8" r="2.2" fill="none" stroke="#D9A05C" stroke-width="1.05"/>
<circle cx="422.3" cy="379.8" r="2.2" fill="none" stroke="#D9A05C" stroke-width="1.05"/>
<circle cx="409.4" cy="383.2" r="2.2" fill="none" stroke="#D9A05C" stroke-width="1.05"/>
<circle cx="413.7" cy="382.1" r="2.2" fill="none" stroke="#D9A05C" stroke-width="1.05"/>
<circle cx="423.5" cy="383.5" r="2.2" fill="none" stroke="#D9A05C" stroke-width="1.05"/>
<circle cx="414.2" cy="386.9" r="2.2" fill="none" stroke="#D9A05C" stroke-width="1.05"/>
<circle cx="423.5" cy="391.5" r="2.2" fill="none" stroke="#D9A05C" stroke-width="1.05"/>
<circle cx="484.8" cy="362.5" r="2.2" fill="none" stroke="#5E9ED8" stroke-width="1.0"/>
<circle cx="482.9" cy="377.7" r="2.2" fill="none" stroke="#5E9ED8" stroke-width="1.0"/>
<circle cx="490.5" cy="378.6" r="2.2" fill="none" stroke="#5E9ED8" stroke-width="1.0"/>
<circle cx="475.5" cy="382.3" r="2.2" fill="none" stroke="#5E9ED8" stroke-width="1.0"/>
<circle cx="478.7" cy="389.2" r="2.2" fill="none" stroke="#5E9ED8" stroke-width="1.0"/>
<circle cx="487.9" cy="391.5" r="2.2" fill="none" stroke="#5E9ED8" stroke-width="1.0"/>
<circle cx="481.3" cy="402.2" r="2.2" fill="none" stroke="#5E9ED8" stroke-width="1.0"/>
<circle cx="472.9" cy="411.3" r="2.2" fill="none" stroke="#5E9ED8" stroke-width="1.0"/>
<circle cx="478.7" cy="412.5" r="2.2" fill="none" stroke="#5E9ED8" stroke-width="1.0"/>
<circle cx="483.8" cy="410.2" r="2.2" fill="none" stroke="#5E9ED8" stroke-width="1.0"/>
<circle cx="488.2" cy="413.6" r="2.2" fill="none" stroke="#5E9ED8" stroke-width="1.0"/>
<circle cx="492.5" cy="417.3" r="2.2" fill="none" stroke="#5E9ED8" stroke-width="1.0"/>
<circle cx="471.2" cy="426.5" r="2.2" fill="none" stroke="#5E9ED8" stroke-width="1.0"/>
<circle cx="476.9" cy="426.5" r="2.2" fill="none" stroke="#5E9ED8" stroke-width="1.0"/>
<circle cx="489.6" cy="427.7" r="2.2" fill="none" stroke="#5E9ED8" stroke-width="1.0"/>
<circle cx="479.2" cy="433.5" r="2.2" fill="none" stroke="#5E9ED8" stroke-width="1.0"/>
<circle cx="488.5" cy="434.6" r="2.2" fill="none" stroke="#5E9ED8" stroke-width="1.0"/>
<circle cx="484.4" cy="441.3" r="2.2" fill="none" stroke="#5E9ED8" stroke-width="1.0"/>
<circle cx="484.4" cy="448.5" r="2.2" fill="none" stroke="#5E9ED8" stroke-width="1.0"/>
<circle cx="480.2" cy="462.5" r="2.2" fill="none" stroke="#5E9ED8" stroke-width="1.0"/>
<circle cx="476" cy="467.3" r="2.2" fill="none" stroke="#5E9ED8" stroke-width="1.0"/>
<circle cx="491.3" cy="465" r="2.2" fill="none" stroke="#5E9ED8" stroke-width="1.0"/>
<circle cx="488.5" cy="470.8" r="2.2" fill="none" stroke="#5E9ED8" stroke-width="1.0"/>
<circle cx="483.3" cy="474.2" r="2.2" fill="none" stroke="#5E9ED8" stroke-width="1.0"/>
<circle cx="477.5" cy="475.4" r="2.2" fill="none" stroke="#5E9ED8" stroke-width="1.0"/>
<line x1="417.7" y1="337.5" x2="417.7" y2="354.4" stroke="#C0283A" stroke-width="2.2" />
<circle cx="417.7" cy="346.7" r="3" fill="#C8283C" stroke="none" stroke-width="1"/>
<line x1="482.9" y1="411.5" x2="482.9" y2="437.2" stroke="#C0283A" stroke-width="2.2" />
<circle cx="482.9" cy="424" r="3" fill="#C8283C" stroke="none" stroke-width="1"/>
<text x="395.5" y="544.2" font-size="12" font-weight="bold" font-style="normal" fill="#000" text-anchor="start" >Control</text>
<text x="464.2" y="544.5" font-size="11.9" font-weight="bold" font-style="italic" fill="#000" text-anchor="start" >Tgfb1</text>
<text x="496.8" y="541" font-size="8.7" font-weight="bold" font-style="italic" fill="#000" text-anchor="start" >flox</text>
<text transform="translate(356.4,369.5) rotate(-90)" font-size="10.2" font-weight="normal" fill="#222" text-anchor="middle" textLength="94" lengthAdjust="spacing">Total TGF-β1 (ng/ml)</text>
<text x="32.8" y="394.8" font-size="15" font-weight="bold" font-style="normal" fill="#000" text-anchor="start" >F</text>
<text x="59.8" y="393.5" font-size="11" font-weight="bold" font-style="normal" fill="#000" text-anchor="start" >Platelet Lysates</text>
<line x1="71" y1="399.2" x2="127" y2="399.2" stroke="#111" stroke-width="1.6" />
<rect x="70.9" y="406.1" width="56.5" height="32.799999999999955" fill="#fafafa" stroke="#9a9a9a" stroke-width="1.4"/>
<rect x="70.9" y="447.4" width="56.5" height="31.80000000000001" fill="#fafafa" stroke="#9a9a9a" stroke-width="1.4"/>
<rect x="70.9" y="489.2" width="56.5" height="32.80000000000001" fill="#fafafa" stroke="#9a9a9a" stroke-width="1.4"/>
<text x="58.2" y="410.8" font-size="6" font-weight="normal" font-style="normal" fill="#444" text-anchor="start"  stroke="#444" stroke-width="0.1">Mr</text>
<text x="58.2" y="418.5" font-size="6" font-weight="normal" font-style="normal" fill="#444" text-anchor="start"  stroke="#444" stroke-width="0.1">[kD]</text>
<text x="58.2" y="430.8" font-size="6.5" font-weight="normal" font-style="normal" fill="#444" text-anchor="start"  stroke="#444" stroke-width="0.1">22</text>
<line x1="68.4" y1="426.9" x2="70.4" y2="426.9" stroke="#444" stroke-width="0.8" />
<text x="58.6" y="479.2" font-size="6.5" font-weight="normal" font-style="normal" fill="#444" text-anchor="start"  stroke="#444" stroke-width="0.1">98</text>
<line x1="67.3" y1="476.2" x2="70.3" y2="476.2" stroke="#444" stroke-width="0.8" />
<text x="58.6" y="505" font-size="6.5" font-weight="normal" font-style="normal" fill="#444" text-anchor="start"  stroke="#444" stroke-width="0.1">50</text>
<line x1="67.3" y1="501.9" x2="70.3" y2="501.9" stroke="#444" stroke-width="0.8" />
<rect x="71.6" y="423.1" width="23.4" height="3.4" rx="1.7" fill="#151515" filter="url(#bl)"/>
<rect x="99.4" y="423.8" width="22.5" height="2" rx="1" fill="#6a6a6a" filter="url(#bl)"/>
<rect x="75.2" y="460.6" width="19.4" height="4.8" rx="2.2" fill="#3a3a3a" filter="url(#bl2)"/>
<rect x="102.4" y="459.9" width="20.3" height="5" rx="2.4" fill="#262626" filter="url(#bl2)"/>
<rect x="70.9" y="503.3" width="27.2" height="5.2" rx="2.6" fill="#111" filter="url(#bl)"/>
<rect x="97.2" y="503.3" width="26.8" height="5.2" rx="2.6" fill="#111" filter="url(#bl)"/>
<text x="129.4" y="412.8" font-size="9.3" font-weight="normal" font-style="normal" fill="#222" text-anchor="start" >Antibody</text>
<text x="129.4" y="427.1" font-size="9.3" font-weight="normal" font-style="normal" fill="#222" text-anchor="start" >TGF-<tspan font-family="Liberation Serif" font-size="10">β</tspan>1</text>
<text x="129.4" y="466.3" font-size="9.3" font-weight="normal" font-style="normal" fill="#222" text-anchor="start" ><tspan font-family="Liberation Serif" font-size="10.5">α</tspan>IIb</text>
<text x="129.3" y="510.4" font-size="9.3" font-weight="normal" font-style="normal" fill="#222" text-anchor="start" >Actin</text>
<text x="63.5" y="543" font-size="9.4" font-weight="bold" font-style="normal" fill="#000" text-anchor="start" >Control</text>
<text x="103.9" y="543" font-size="9.4" font-weight="bold" font-style="italic" fill="#000" text-anchor="start" >Tgfb1</text>
<text x="130.6" y="536.5" font-size="7" font-weight="bold" font-style="italic" fill="#000" text-anchor="start" >flox</text>
<text x="184.5" y="394.6" font-size="14.6" font-weight="bold" font-style="normal" fill="#000" text-anchor="start" >G</text>
<text x="249.3" y="394" font-size="11" font-weight="bold" font-style="normal" fill="#000" text-anchor="start" >Serum</text>
<line x1="217.2" y1="398.2" x2="316.1" y2="398.2" stroke="#111" stroke-width="1.6" />
<text x="243.7" y="411" font-size="8.8" font-weight="normal" font-style="normal" fill="#333" text-anchor="start" >Blot: TGF-<tspan font-family="Liberation Serif" font-size="9.5">β</tspan>1</text>
<rect x="214" y="415" width="103.7" height="98.8" fill="#cccccf" />
<text x="201.6" y="417.7" font-size="6.5" font-weight="normal" font-style="normal" fill="#444" text-anchor="start"  stroke="#444" stroke-width="0.1">Mr</text>
<text x="211.8" y="425.40000000000003" font-size="6.5" font-weight="normal" font-style="normal" fill="#444" text-anchor="end"  stroke="#444" stroke-width="0.1">[kD]</text>
<text x="211.8" y="434.1" font-size="6.5" font-weight="normal" font-style="normal" fill="#444" text-anchor="end"  stroke="#444" stroke-width="0.1">250</text>
<text x="211.8" y="445.40000000000003" font-size="6.5" font-weight="normal" font-style="normal" fill="#444" text-anchor="end"  stroke="#444" stroke-width="0.1">148</text>
<text x="211.8" y="460.3" font-size="6.5" font-weight="normal" font-style="normal" fill="#444" text-anchor="end"  stroke="#444" stroke-width="0.1">98</text>
<text x="211.8" y="469.5" font-size="6.5" font-weight="normal" font-style="normal" fill="#444" text-anchor="end"  stroke="#444" stroke-width="0.1">64</text>
<text x="211.8" y="478.8" font-size="6.5" font-weight="normal" font-style="normal" fill="#444" text-anchor="end"  stroke="#444" stroke-width="0.1">50</text>
<text x="211.8" y="491.1" font-size="6.5" font-weight="normal" font-style="normal" fill="#444" text-anchor="end"  stroke="#444" stroke-width="0.1">36</text>
<text x="211.8" y="505.40000000000003" font-size="6.5" font-weight="normal" font-style="normal" fill="#444" text-anchor="end"  stroke="#444" stroke-width="0.1">22</text>
<rect x="216.5" y="452.5" width="9.300000000000011" height="2" rx="1" fill="#a0a0a4" filter="url(#bl)"/>
<rect x="216.5" y="498" width="9.300000000000011" height="1.6" rx="0.8" fill="#a9a9ac" filter="url(#bl)"/>
<rect x="216.2" y="501" width="9.900000000000011" height="3" rx="1.5" fill="#181818" filter="url(#bl)"/>
<rect x="229.5" y="452.5" width="9.699999999999989" height="2" rx="1" fill="#a0a0a4" filter="url(#bl)"/>
<rect x="229.5" y="498" width="9.699999999999989" height="1.6" rx="0.8" fill="#a9a9ac" filter="url(#bl)"/>
<rect x="229.2" y="501" width="10.299999999999988" height="3" rx="1.5" fill="#181818" filter="url(#bl)"/>
<rect x="243" y="428.2" width="9.5" height="1.3" rx="0.6" fill="#bdbdc0" filter="url(#bl)"/>
<rect x="243" y="452.5" width="9.5" height="2" rx="1" fill="#a0a0a4" filter="url(#bl)"/>
<rect x="243" y="498" width="9.5" height="1.6" rx="0.8" fill="#a9a9ac" filter="url(#bl)"/>
<rect x="242.7" y="501" width="10.1" height="3" rx="1.5" fill="#181818" filter="url(#bl)"/>
<rect x="256" y="428.2" width="9.5" height="1.3" rx="0.6" fill="#bdbdc0" filter="url(#bl)"/>
<rect x="256" y="452.5" width="9.5" height="2" rx="1" fill="#a0a0a4" filter="url(#bl)"/>
<rect x="256" y="498" width="9.5" height="1.6" rx="0.8" fill="#a9a9ac" filter="url(#bl)"/>
<rect x="255.7" y="501" width="10.1" height="3" rx="1.5" fill="#181818" filter="url(#bl)"/>
<rect x="269.1" y="452.5" width="10.099999999999966" height="2" rx="1" fill="#a0a0a4" filter="url(#bl)"/>
<rect x="269.1" y="498.7" width="10.099999999999966" height="1.5" rx="0.7" fill="#acacb0" filter="url(#bl)"/>
<rect x="269.1" y="502" width="10.099999999999966" height="1.1" rx="0.5" fill="#bdbdc0" filter="url(#bl)"/>
<rect x="282.6" y="428.2" width="8.699999999999989" height="1.3" rx="0.6" fill="#bdbdc0" filter="url(#bl)"/>
<rect x="282.6" y="453.1" width="8.699999999999989" height="2" rx="1" fill="#a0a0a4" filter="url(#bl)"/>
<rect x="282.6" y="498.7" width="8.699999999999989" height="1.5" rx="0.7" fill="#acacb0" filter="url(#bl)"/>
<rect x="282.6" y="502" width="8.699999999999989" height="1.1" rx="0.5" fill="#bdbdc0" filter="url(#bl)"/>
<rect x="295.4" y="453.7" width="10.100000000000023" height="2" rx="1" fill="#a0a0a4" filter="url(#bl)"/>
<rect x="295.4" y="498.7" width="10.100000000000023" height="1.5" rx="0.7" fill="#acacb0" filter="url(#bl)"/>
<rect x="295.4" y="502" width="10.100000000000023" height="1.1" rx="0.5" fill="#bdbdc0" filter="url(#bl)"/>
<rect x="308.8" y="428.2" width="8.199999999999989" height="1.3" rx="0.6" fill="#bdbdc0" filter="url(#bl)"/>
<rect x="308.8" y="454.3" width="8.199999999999989" height="2" rx="1" fill="#a0a0a4" filter="url(#bl)"/>
<rect x="308.8" y="498.7" width="8.199999999999989" height="1.5" rx="0.7" fill="#acacb0" filter="url(#bl)"/>
<rect x="308.8" y="502" width="8.199999999999989" height="1.1" rx="0.5" fill="#bdbdc0" filter="url(#bl)"/>
<text x="212.9" y="524.9" font-size="6.1" font-weight="normal" font-style="normal" fill="#333" text-anchor="end" stroke="none">Mouse</text>
<text x="218.8" y="524.9" font-size="6.4" font-weight="normal" font-style="normal" fill="#333" text-anchor="middle"  stroke="#333" stroke-width="0.1">1</text>
<text x="231.9" y="524.9" font-size="6.4" font-weight="normal" font-style="normal" fill="#333" text-anchor="middle"  stroke="#333" stroke-width="0.1">2</text>
<text x="246.5" y="524.9" font-size="6.4" font-weight="normal" font-style="normal" fill="#333" text-anchor="middle"  stroke="#333" stroke-width="0.1">3</text>
<text x="258.8" y="524.9" font-size="6.4" font-weight="normal" font-style="normal" fill="#333" text-anchor="middle"  stroke="#333" stroke-width="0.1">4</text>
<text x="273.3" y="524.9" font-size="6.4" font-weight="normal" font-style="normal" fill="#333" text-anchor="middle"  stroke="#333" stroke-width="0.1">1</text>
<text x="286.5" y="524.9" font-size="6.4" font-weight="normal" font-style="normal" fill="#333" text-anchor="middle"  stroke="#333" stroke-width="0.1">2</text>
<text x="301.2" y="524.9" font-size="6.4" font-weight="normal" font-style="normal" fill="#333" text-anchor="middle"  stroke="#333" stroke-width="0.1">3</text>
<text x="312" y="524.9" font-size="6.4" font-weight="normal" font-style="normal" fill="#333" text-anchor="middle"  stroke="#333" stroke-width="0.1">4</text>
<line x1="216.5" y1="531" x2="263.5" y2="531" stroke="#333" stroke-width="1.3" />
<line x1="268.9" y1="531" x2="317.7" y2="531" stroke="#333" stroke-width="1.3" />
<text x="222.4" y="545.7" font-size="10" font-weight="bold" font-style="normal" fill="#000" text-anchor="start" >Control</text>
<text x="276.9" y="545" font-size="10" font-weight="bold" font-style="italic" fill="#000" text-anchor="start" >Tgfb1</text>
<text x="303.5" y="538.3" font-size="7" font-weight="bold" font-style="italic" fill="#000" text-anchor="start" >flox</text>
</svg></body></html>
